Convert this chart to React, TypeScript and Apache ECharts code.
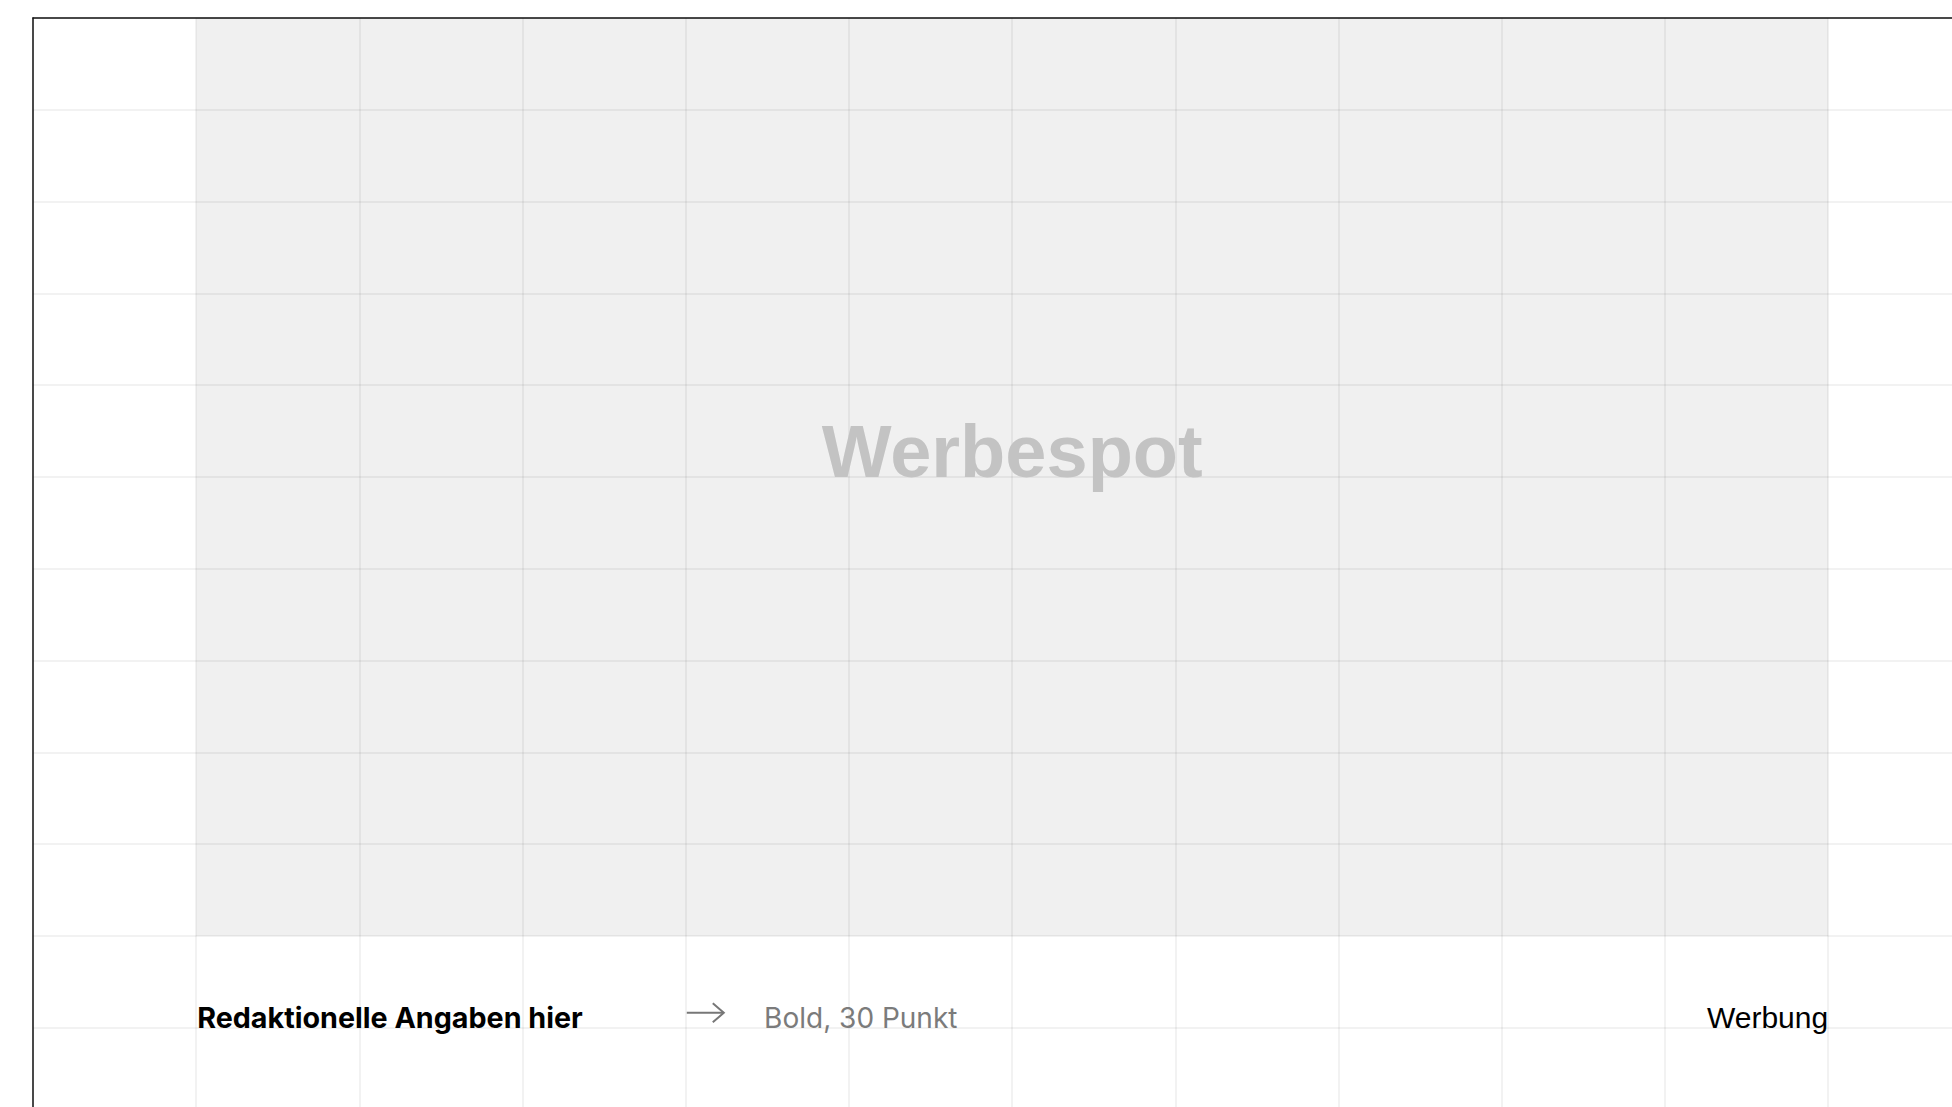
import React, { useEffect, useRef } from "react";
import * as echarts from "echarts";

// Layout grid in column / row units (columns of the ad layout, rows of the baseline grid)
const columnRange = [-1, 11.053];
const rowRange = [0, 12.44];
// Advertising area: [colStart, rowStart, colEnd, rowEnd]
const spotArea = [[0, 0, 10, 10]];
// Text content
const spotTitle = "Werbespot";
const captionLabel = "Redaktionelle Angaben hier";
const captionNote = "Bold, 30 Punkt";
const adLabel = "Werbung";
// Anchor positions in grid units
const titleAnchor = [5, 5]; // centred, baseline on row line 5
const captionAnchor = [0, 11];
const arrowAnchor = [3, 11];
const noteAnchor = [3.48, 11];
const adAnchor = [10, 11];

export default function App() {
  const ref = useRef<HTMLDivElement>(null);
  useEffect(() => {
    if (!ref.current) return;
    const chart = echarts.init(ref.current, null, { renderer: "svg" });
    const splitStyle = { color: "rgba(0,0,0,0.05)", width: 2 };
    chart.setOption({
      animation: false,
      backgroundColor: "#ffffff",
      grid: { left: 33, top: 18, right: 0, bottom: 0, containLabel: false },
      xAxis: {
        type: "value",
        position: "top",
        min: columnRange[0],
        max: columnRange[1],
        interval: 1,
        axisLine: { show: true, onZero: false, lineStyle: { color: "#111", width: 1.5 } },
        axisTick: { show: false },
        axisLabel: { show: false },
        splitLine: { show: true, lineStyle: splitStyle },
      },
      yAxis: {
        type: "value",
        inverse: true,
        min: rowRange[0],
        max: rowRange[1],
        interval: 1,
        axisLine: { show: true, onZero: false, lineStyle: { color: "#111", width: 1.5 } },
        axisTick: { show: false },
        axisLabel: { show: false },
        splitLine: { show: true, lineStyle: splitStyle },
      },
      series: [
        {
          type: "custom",
          silent: true,
          data: spotArea,
          encode: { x: [0, 2], y: [1, 3] },
          renderItem: (params: any, api: any) => {
            const p0 = api.coord([api.value(0), api.value(1)]);
            const p1 = api.coord([api.value(2), api.value(3)]);
            return {
              type: "rect",
              shape: {
                x: Math.min(p0[0], p1[0]),
                y: Math.min(p0[1], p1[1]),
                width: Math.abs(p1[0] - p0[0]),
                height: Math.abs(p1[1] - p0[1]),
              },
              style: { fill: "rgba(0,0,0,0.06)" },
            };
          },
        },
      ],
    });

    const px = (p: number[]) => chart.convertToPixel({ gridIndex: 0 }, p) as number[];
    const t = px(titleAnchor);
    const c = px(captionAnchor);
    const a = px(arrowAnchor);
    const n = px(noteAnchor);
    const w = px(adAnchor);
    const sansK = 0.3465;
    const interK = 0.364;
    chart.setOption({
      graphic: [
        {
          type: "text",
          silent: true,
          style: {
            x: t[0],
            y: t[1] - sansK * 74,
            text: spotTitle,
            font: "bold 74px 'Liberation Sans', Arial, sans-serif",
            fill: "#d0d0d0",
            align: "center",
            verticalAlign: "middle",
          },
        },
        {
          type: "text",
          silent: true,
          style: {
            x: c[0] + 1,
            y: c[1] - interK * 28.7,
            text: captionLabel,
            font: "bold 28.7px Inter, sans-serif",
            fill: "#000000",
            align: "left",
            verticalAlign: "middle",
          },
        },
        {
          type: "line",
          silent: true,
          shape: { x1: a[0] + 1, y1: a[1] - 15, x2: a[0] + 38, y2: a[1] - 15 },
          style: { stroke: "#777777", lineWidth: 2 },
        },
        {
          type: "polyline",
          silent: true,
          shape: {
            points: [
              [a[0] + 27, a[1] - 24.5],
              [a[0] + 38, a[1] - 15],
              [a[0] + 27, a[1] - 5.5],
            ],
          },
          style: { stroke: "#777777", lineWidth: 2, fill: null },
        },
        {
          type: "text",
          silent: true,
          style: {
            x: n[0],
            y: n[1] - interK * 28,
            text: captionNote,
            font: "28px Inter, sans-serif",
            fill: "#7b7b7b",
            align: "left",
            verticalAlign: "middle",
          },
        },
        {
          type: "text",
          silent: true,
          style: {
            x: w[0],
            y: w[1] - sansK * 30,
            text: adLabel,
            font: "30px 'Liberation Sans', Arial, sans-serif",
            fill: "#000000",
            align: "right",
            verticalAlign: "middle",
          },
        },
      ],
    });
    return () => chart.dispose();
  }, []);
  return (
    <div
      style={{ position: "absolute", left: 0, top: 0, width: 1952, height: 1107, overflow: "hidden" }}
    >
      <div ref={ref} style={{ width: 2000, height: 1160 }} />
    </div>
  );
}
